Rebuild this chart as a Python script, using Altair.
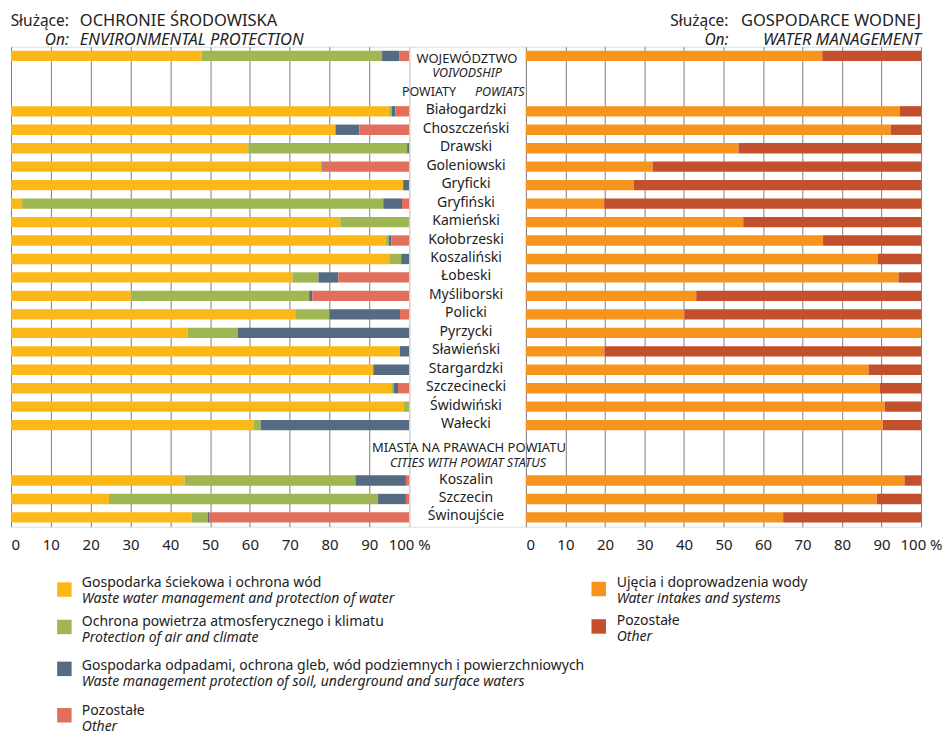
import altair as alt
import pandas as pd

FONT = "Noto Sans"

# ---------------- data ----------------
voiv = ["WOJEWÓDZTWO"]
powiats = ["Białogardzki", "Choszczeński", "Drawski", "Goleniowski", "Gryficki",
           "Gryfiński", "Kamieński", "Kołobrzeski", "Koszaliński", "Łobeski",
           "Myśliborski", "Policki", "Pyrzycki", "Sławieński", "Stargardzki",
           "Szczecinecki", "Świdwiński", "Wałecki"]
cities = ["Koszalin", "Szczecin", "Świnoujście"]
regions = voiv + powiats + cities

# Environmental protection (%), order: regions
env_wastewater = [47.9, 95.0, 81.5, 59.6, 78.0, 98.5, 2.8, 82.7, 94.2, 95.0, 70.7,
                  30.1, 71.4, 44.4, 97.7, 91.0, 95.5, 98.7, 60.9, 43.6, 24.6, 45.4]
env_air = [45.3, 0.7, 0.0, 39.9, 0.0, 0.0, 90.7, 17.3, 0.7, 3.0, 6.5,
           44.8, 8.6, 12.5, 0.0, 0.0, 0.7, 1.3, 1.8, 42.9, 67.6, 4.0]
env_waste = [4.3, 0.8, 6.0, 0.5, 0.3, 1.5, 4.7, 0.0, 0.6, 2.0, 5.0,
             0.8, 17.7, 43.1, 2.3, 9.0, 1.0, 0.0, 37.3, 12.7, 7.0, 0.5]
env_other = [2.5, 3.5, 12.5, 0.0, 21.7, 0.0, 1.8, 0.0, 4.5, 0.0, 17.8,
             24.3, 2.3, 0.0, 0.0, 0.0, 2.8, 0.0, 0.0, 0.8, 0.8, 50.1]

# Water management (%)
water_intakes = [75.0, 94.6, 92.3, 53.8, 32.1, 27.3, 19.8, 55.0, 75.2, 89.0, 94.3,
                 43.1, 40.1, 100.0, 19.9, 86.7, 89.5, 90.8, 90.3, 95.8, 88.8, 65.1]
water_other = [round(100 - v, 1) for v in water_intakes]

env_cats = ["Gospodarka ściekowa i ochrona wód",
            "Ochrona powietrza atmosferycznego i klimatu",
            "Gospodarka odpadami, ochrona gleb, wód podziemnych i powierzchniowych",
            "Pozostałe"]
env_cats_en = ["Waste water management and protection of water",
               "Protection of air and climate",
               "Waste management protection of soil, underground and surface waters",
               "Other"]
env_colors = ["#FBB817", "#A0B653", "#546B82", "#E26F5B"]

water_cats = ["Ujęcia i doprowadzenia wody", "Pozostałe (woda)"]
water_labels = ["Ujęcia i doprowadzenia wody", "Pozostałe"]
water_cats_en = ["Water intakes and systems", "Other"]
water_colors = ["#F7941E", "#C2502D"]

domain = voiv + ["_g1", "_g2"] + powiats + ["_g3", "_g4"] + cities

# ---------------- frames ----------------
env_rows = []
for i, r in enumerate(regions):
    for j, arr in enumerate([env_wastewater, env_air, env_waste, env_other]):
        env_rows.append({"key": r, "cat": env_cats[j], "ord": j, "value": arr[i]})
env_df = pd.DataFrame(env_rows)

wat_rows = []
for i, r in enumerate(regions):
    for j, arr in enumerate([water_intakes, water_other]):
        wat_rows.append({"key": r, "wcat": water_cats[j], "ord": j, "value": arr[i]})
wat_df = pd.DataFrame(wat_rows)

H = 481
WL, WM, WR = 399, 117, 396

yscale = alt.Scale(domain=domain, paddingInner=0.44, paddingOuter=0.22)


def xaxis():
    return alt.Axis(values=list(range(0, 101, 10)), grid=True, gridColor="#808080",
                    gridOpacity=1, gridWidth=1, ticks=False, domain=False,
                    labelOverlap=False, labelFlush=False,
                    labelAlign={"condition": {"test": "datum.value === 0", "value": "left"},
                                "value": "center"},
                    labelExpr="datum.value == 100 ? '100 %' : datum.label",
                    labelFontSize=15, labelPadding=11, labelColor="#222",
                    labelFont=FONT, title=None)


def txt(text, x, y, align="left", italic=False, size=15, color="#222"):
    return alt.Chart(pd.DataFrame({"t": [text]})).mark_text(
        align=align, baseline="middle", fontSize=size, font=FONT,
        fontStyle="italic" if italic else "normal", color=color
    ).encode(text="t:N", x=alt.value(x), y=alt.value(y))


def square(color, x, y):
    return alt.Chart(pd.DataFrame({"c": [color]})).mark_square(
        size=210, opacity=1, color=color, filled=True
    ).encode(x=alt.value(x), y=alt.value(y))


# ---------------- left panel ----------------
left_bars = alt.Chart(env_df).mark_bar().encode(
    x=alt.X("value:Q", stack="zero", scale=alt.Scale(domain=[0, 100], nice=False), axis=xaxis()),
    y=alt.Y("key:N", scale=yscale, axis=None, sort=domain),
    color=alt.Color("cat:N", scale=alt.Scale(domain=env_cats, range=env_colors), legend=None),
    order=alt.Order("ord:Q"),
)

left_layers = [left_bars,
               txt("Służące:", 58, -26, "right", size=15.5),
               txt("OCHRONIE ŚRODOWISKA", 69, -26, size=16.5),
               txt("On:", 58, -7, "right", italic=True, size=15.5),
               txt("ENVIRONMENTAL PROTECTION", 69, -7, italic=True, size=16.5)]

leg_sq_y = [544, 581.5, 623.5, 670]
leg_t1_y = [537, 576.5, 621, 666]
for k in range(4):
    left_layers.append(square(env_colors[k], 53.5, leg_sq_y[k]))
    left_layers.append(txt(env_cats[k], 71, leg_t1_y[k], size=14))
    left_layers.append(txt(env_cats_en[k], 71, leg_t1_y[k] + 16, italic=True, size=14))

left = alt.layer(*left_layers).properties(width=WL, height=H)

# ---------------- middle labels ----------------
names_df = pd.DataFrame({"key": powiats + cities, "label": powiats + cities})


def mid(text, key, x, align="center", italic=False, dy=0, size=12.5):
    return alt.Chart(pd.DataFrame({"key": [key], "label": [text]})).mark_text(
        align=align, baseline="middle", fontSize=size, font=FONT, dy=dy,
        fontStyle="italic" if italic else "normal", color="#222"
    ).encode(text="label:N", y=alt.Y("key:N", scale=yscale, axis=None), x=alt.value(x))


mid_names = alt.Chart(names_df).mark_text(
    align="center", baseline="middle", fontSize=14, font=FONT, color="#222", dy=-1
).encode(text="label:N", y=alt.Y("key:N", scale=yscale, axis=None), x=alt.value(57))

middle = alt.layer(
    mid_names,
    mid("WOJEWÓDZTWO", "WOJEWÓDZTWO", 58, dy=3, size=13),
    mid("VOIVODSHIP", "_g1", 58, italic=True, dy=-1),
    mid("POWIATY", "_g2", 47, align="right", dy=-1),
    mid("POWIATS", "_g2", 66, align="left", italic=True, dy=-1),
    mid("MIASTA NA PRAWACH POWIATU", "_g3", 60, dy=4, size=13),
    mid("CITIES WITH POWIAT STATUS", "_g4", 59, italic=True, dy=1),
).properties(width=WM, height=H)

# ---------------- right panel ----------------
right_bars = alt.Chart(wat_df).mark_bar().encode(
    x=alt.X("value:Q", stack="zero", scale=alt.Scale(domain=[0, 100], nice=False), axis=xaxis()),
    y=alt.Y("key:N", scale=yscale, axis=None, sort=domain),
    fill=alt.Fill("wcat:N", scale=alt.Scale(domain=water_cats, range=water_colors), legend=None),
    order=alt.Order("ord:Q"),
)

right_layers = [right_bars,
                txt("Służące:", 203, -26, "right", size=15.5),
                txt("GOSPODARCE WODNEJ", 396, -26, "right", size=16.5),
                txt("On:", 203, -7, "right", italic=True, size=15.5),
                txt("WATER MANAGEMENT", 396, -7, "right", italic=True, size=16.5)]
rleg_sq_y = [543.5, 581]
rleg_t1_y = [537, 576]
for k in range(2):
    right_layers.append(square(water_colors[k], 73, rleg_sq_y[k]))
    right_layers.append(txt(water_labels[k], 91, rleg_t1_y[k], size=14))
    right_layers.append(txt(water_cats_en[k], 91, rleg_t1_y[k] + 16, italic=True, size=14))

right = alt.layer(*right_layers).properties(width=WR, height=H)

chart = alt.hconcat(left, middle, right, spacing=0, bounds="flush").resolve_scale(
    color="independent", fill="independent"
).properties(
    padding={"left": 2, "top": 3, "right": 0, "bottom": 0}
).configure_view(stroke=None).configure(font=FONT)

chart.save("out.html", embed_options={"renderer": "svg", "actions": False})
